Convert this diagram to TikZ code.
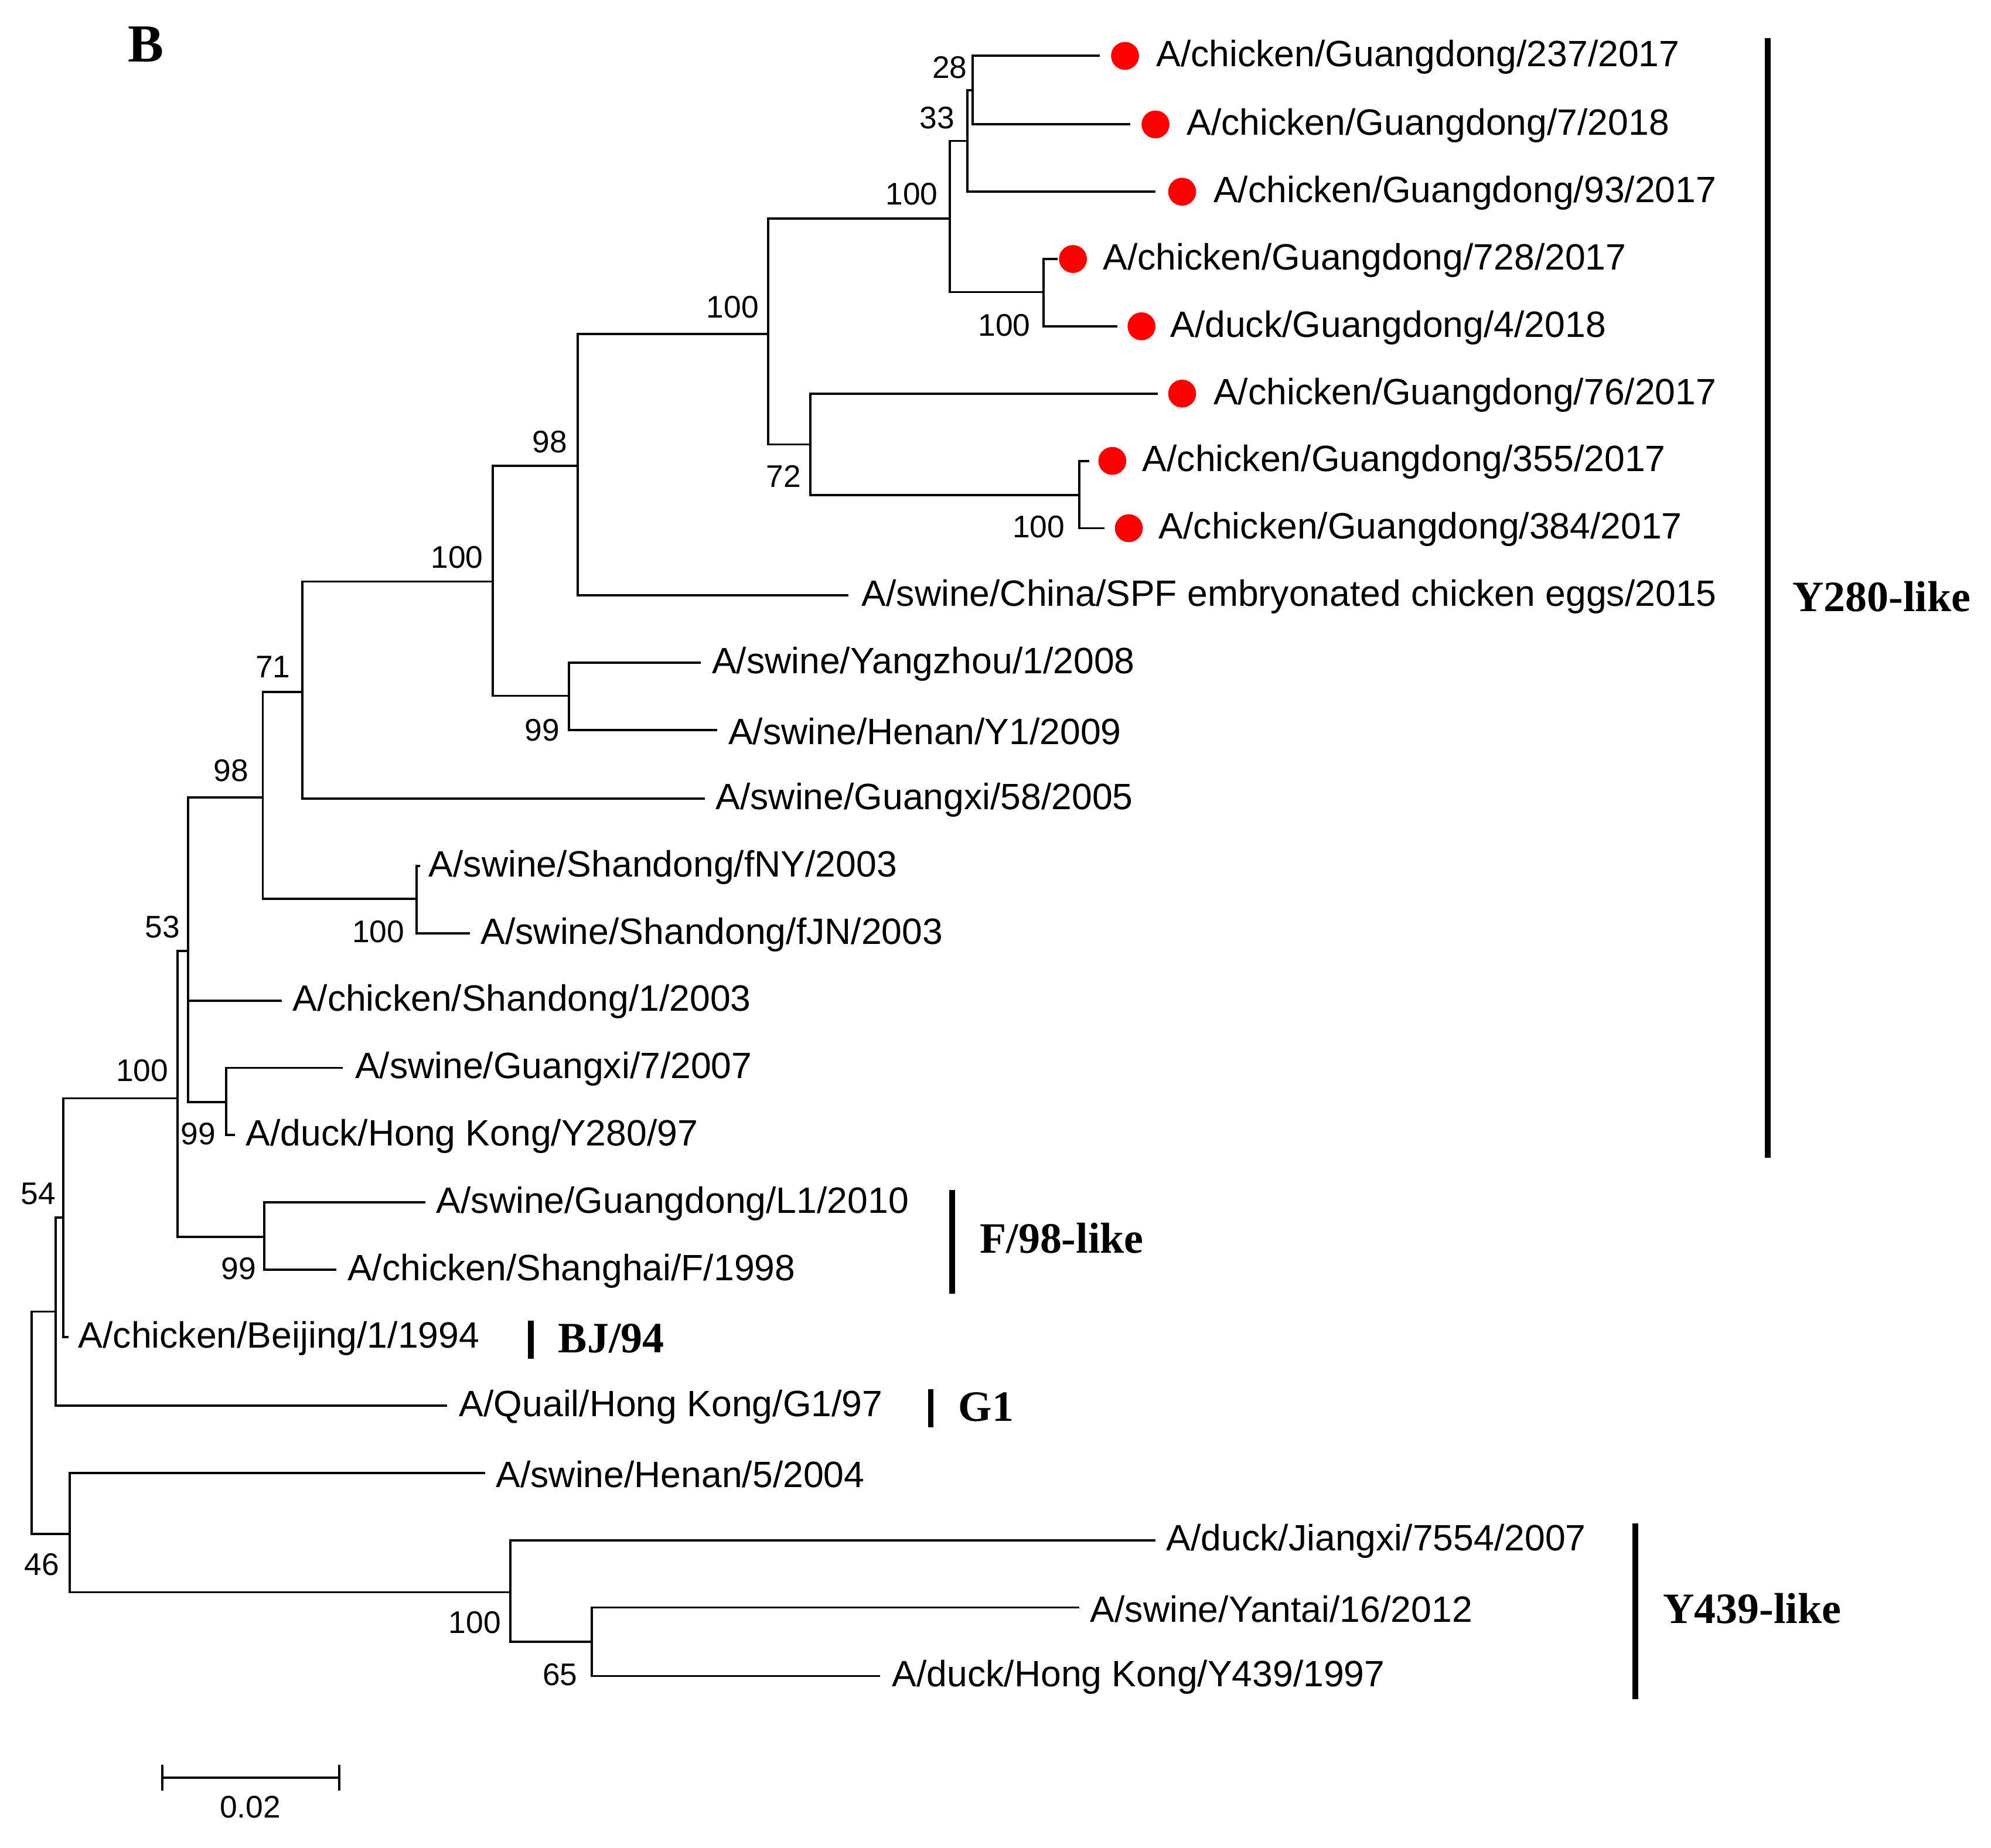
\documentclass[tikz,border=0pt]{standalone}
\usepackage{fontspec}
\setmainfont{Liberation Sans}
\newfontfamily\serifb{Liberation Serif}
\begin{document}
\begin{tikzpicture}[x=0.01cm,y=-0.01cm,
 lf/.style={anchor=west,inner sep=0pt,font=\fontsize{8.2}{9}\selectfont},
 bs/.style={inner sep=0pt,font=\fontsize{7}{8}\selectfont},
 cl/.style={anchor=west,inner sep=0pt,font=\serifb\bfseries\fontsize{9.7}{11}\selectfont},
 br/.style={line width=0.5pt},
 dot/.style={circle,fill=red,inner sep=0pt,minimum size=0.22cm},
 bar/.style={line width=1.3pt}]
\useasboundingbox (0,0) rectangle (1568,1455);
\node[font=\serifb\bfseries\fontsize{12}{13}\selectfont] (B) at (115,35) {B};
% internal nodes
\coordinate (root) at (25,1209);
\coordinate (n44) at (44,1033);
\coordinate (n50) at (50,959);
\coordinate (n140) at (140,865);
\coordinate (n148) at (148,749);
\coordinate (n178) at (178,868);
\coordinate (n208) at (208,974);
\coordinate (n207) at (207,628);
\coordinate (n328) at (328,708);
\coordinate (n238) at (238,545);
\coordinate (n388) at (388,458);
\coordinate (n448) at (448,548);
\coordinate (n455) at (455,367);
\coordinate (n605) at (605,263);
\coordinate (n638) at (638,350);
\coordinate (n850) at (850,390);
\coordinate (n748) at (748,172);
\coordinate (n762) at (762,111);
\coordinate (n766) at (766,71);
\coordinate (n822) at (822,230);
\coordinate (n55) at (55,1208);
\coordinate (n402) at (402,1254);
\coordinate (n466) at (466,1293);
% leaf ends
\coordinate (l1) at (866,44); \coordinate (l2) at (890,98); \coordinate (l3) at (910,151);
\coordinate (l4) at (833,204); \coordinate (l5) at (880,257); \coordinate (l6) at (912,310);
\coordinate (l7) at (858,363); \coordinate (l8) at (870,416); \coordinate (l9) at (668,469);
\coordinate (l10) at (552,522); \coordinate (l11) at (565,575); \coordinate (l12) at (555,629);
\coordinate (l13) at (331,682); \coordinate (l14) at (370,735); \coordinate (l15) at (222,788);
\coordinate (l16) at (270,841); \coordinate (l17) at (185,894); \coordinate (l18) at (335,947);
\coordinate (l19) at (265,1000); \coordinate (l20) at (54,1053); \coordinate (l21) at (352,1107);
\coordinate (l22) at (382,1160); \coordinate (l23) at (910,1213); \coordinate (l24) at (850,1266);
\coordinate (l25) at (693,1320);
% branches
\draw[br] (root) |- (n44); \draw[br] (root) |- (n55);
\draw[br] (n44) |- (n50); \draw[br] (n44) |- (l21);
\draw[br] (n50) |- (n140); \draw[br] (n50) |- (l20);
\draw[br] (n140) |- (n148); \draw[br] (n140) |- (n208);
\draw[br] (n148) |- (n207); \draw[br] (n148) |- (l15); \draw[br] (n148) |- (n178);
\draw[br] (n178) |- (l16); \draw[br] (n178) |- (l17);
\draw[br] (n208) |- (l18); \draw[br] (n208) |- (l19);
\draw[br] (n207) |- (n238); \draw[br] (n207) |- (n328);
\draw[br] (n328) |- (l13); \draw[br] (n328) |- (l14);
\draw[br] (n238) |- (n388); \draw[br] (n238) |- (l12);
\draw[br] (n388) |- (n455); \draw[br] (n388) |- (n448);
\draw[br] (n448) |- (l10); \draw[br] (n448) |- (l11);
\draw[br] (n455) |- (n605); \draw[br] (n455) |- (l9);
\draw[br] (n605) |- (n748); \draw[br] (n605) |- (n638);
\draw[br] (n638) |- (l6); \draw[br] (n638) |- (n850);
\draw[br] (n850) |- (l7); \draw[br] (n850) |- (l8);
\draw[br] (n748) |- (n762); \draw[br] (n748) |- (n822);
\draw[br] (n762) |- (n766); \draw[br] (n762) |- (l3);
\draw[br] (n766) |- (l1); \draw[br] (n766) |- (l2);
\draw[br] (n822) |- (l4); \draw[br] (n822) |- (l5);
\draw[br] (n55) |- (l22); \draw[br] (n55) |- (n402);
\draw[br] (n402) |- (l23); \draw[br] (n402) |- (n466);
\draw[br] (n466) |- (l24); \draw[br] (n466) |- (l25);
% dots
\node[dot] (d1) at (886,44) {}; \node[dot] (d2) at (910,98) {}; \node[dot] (d3) at (931,151) {};
\node[dot] (d4) at (845,204) {}; \node[dot] (d5) at (899,257) {}; \node[dot] (d6) at (931,310) {};
\node[dot] (d7) at (876,363) {}; \node[dot] (d8) at (889,416) {};
% leaf labels
\node[lf] (t1) at (910,45) {A/chicken/Guangdong/237/2017};
\node[lf] (t2) at (934,99) {A/chicken/Guangdong/7/2018};
\node[lf] (t3) at (955,152) {A/chicken/Guangdong/93/2017};
\node[lf] (t4) at (868,205) {A/chicken/Guangdong/728/2017};
\node[lf] (t5) at (921,258) {A/duck/Guangdong/4/2018};
\node[lf] (t6) at (955,311) {A/chicken/Guangdong/76/2017};
\node[lf] (t7) at (899,364) {A/chicken/Guangdong/355/2017};
\node[lf] (t8) at (912,417) {A/chicken/Guangdong/384/2017};
\node[lf] (t9) at (678,470) {A/swine/China/SPF embryonated chicken eggs/2015};
\node[lf] (t10) at (560,523) {A/swine/Yangzhou/1/2008};
\node[lf] (t11) at (573,576) {A/swine/Henan/Y1/2009};
\node[lf] (t12) at (563,630) {A/swine/Guangxi/58/2005};
\node[lf] (t13) at (337,683) {A/swine/Shandong/fNY/2003};
\node[lf] (t14) at (378,736) {A/swine/Shandong/fJN/2003};
\node[lf] (t15) at (230,789) {A/chicken/Shandong/1/2003};
\node[lf] (t16) at (279,842) {A/swine/Guangxi/7/2007};
\node[lf] (t17) at (193,895) {A/duck/Hong Kong/Y280/97};
\node[lf] (t18) at (343,948) {A/swine/Guangdong/L1/2010};
\node[lf] (t19) at (273,1001) {A/chicken/Shanghai/F/1998};
\node[lf] (t20) at (61,1054) {A/chicken/Beijing/1/1994};
\node[lf] (t21) at (361,1108) {A/Quail/Hong Kong/G1/97};
\node[lf] (t22) at (390,1161) {A/swine/Henan/5/2004};
\node[lf] (t23) at (918,1214) {A/duck/Jiangxi/7554/2007};
\node[lf] (t24) at (858,1267) {A/swine/Yantai/16/2012};
\node[lf] (t25) at (702,1321) {A/duck/Hong Kong/Y439/1997};
% bootstrap
\node[bs] (b1) at (748,53) {28}; \node[bs] (b2) at (738,93) {33};
\node[bs] (b3) at (718,153) {100}; \node[bs] (b4) at (791,256) {100};
\node[bs] (b5) at (577,242) {100}; \node[bs] (b6) at (617,375) {72};
\node[bs] (b7) at (818,415) {100}; \node[bs] (b8) at (433,348) {98};
\node[bs] (b9) at (360,439) {100}; \node[bs] (b10) at (427,575) {99};
\node[bs] (b11) at (215,525) {71}; \node[bs] (b12) at (182,607) {98};
\node[bs] (b13) at (298,734) {100}; \node[bs] (b14) at (128,730) {53};
\node[bs] (b15) at (112,843) {100}; \node[bs] (b16) at (156,893) {99};
\node[bs] (b17) at (188,999) {99}; \node[bs] (b18) at (30,940) {54};
\node[bs] (b19) at (33,1232) {46}; \node[bs] (b20) at (374,1278) {100};
\node[bs] (b21) at (441,1319) {65};
% clade bars
\coordinate (y1) at (1392,30); \coordinate (y2) at (1392,912); \draw[bar] (y1) -- (y2);
\node[cl] (c1) at (1411,470) {Y280-like};
\coordinate (f1) at (750,937); \coordinate (f2) at (750,1019); \draw[bar] (f1) -- (f2);
\node[cl] (c2) at (771,975) {F/98-like};
\coordinate (bj1) at (418,1040); \coordinate (bj2) at (418,1070); \draw[bar] (bj1) -- (bj2);
\node[cl] (c3) at (439,1054) {BJ/94};
\coordinate (g1) at (733,1094); \coordinate (g2) at (733,1124); \draw[bar] (g1) -- (g2);
\node[cl] (c4) at (754,1108) {G1};
\coordinate (yy1) at (1288,1200); \coordinate (yy2) at (1288,1338); \draw[bar] (yy1) -- (yy2);
\node[cl] (c5) at (1309,1267) {Y439-like};
% scale bar
\coordinate (s1) at (128,1400); \coordinate (s2) at (267,1400);
\draw[br] (s1) -- (s2);
\draw[br] (128,1390) -- (128,1410); \draw[br] (267,1390) -- (267,1410);
\node[bs] (sl) at (197,1423) {0.02};
\end{tikzpicture}
\end{document}
